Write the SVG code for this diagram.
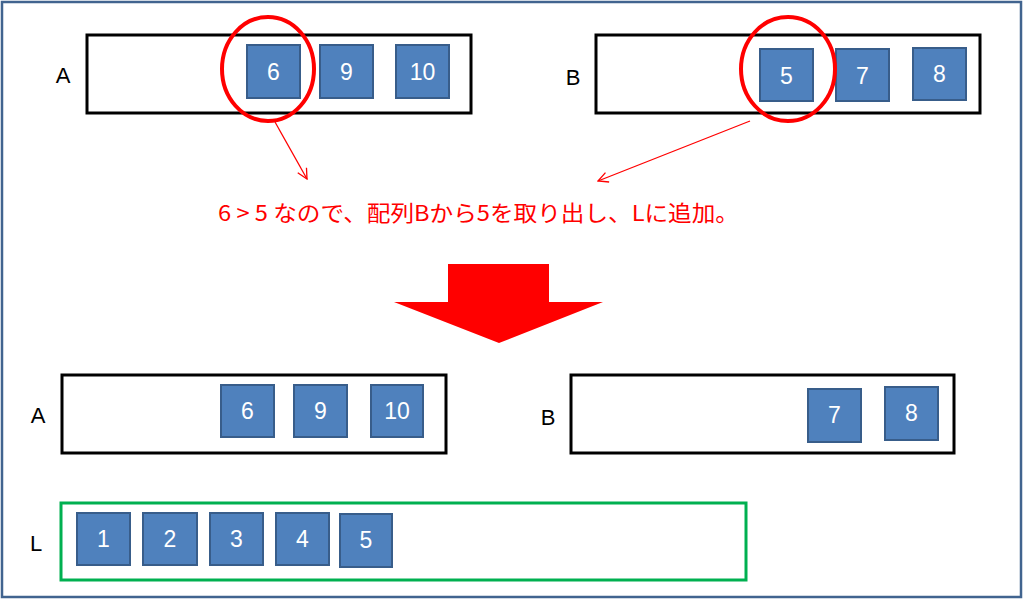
<svg xmlns="http://www.w3.org/2000/svg" width="1024" height="599" viewBox="0 0 1024 599">
<defs>
<style>
.frame{fill:#fff;stroke:#41648f;stroke-width:2.5}
.arr{fill:none;stroke:#000;stroke-width:3}
.lbox{fill:none;stroke:#00b050;stroke-width:3}
.sq{fill:#4f81bd;stroke:#385d8a;stroke-width:2}
.num{font-family:"Liberation Sans",Arial,sans-serif;font-size:23px;fill:#fff;text-anchor:middle;dominant-baseline:central}
.lab{font-family:"Liberation Sans",Arial,sans-serif;font-size:22px;fill:#000;text-anchor:middle;dominant-baseline:central}
.ring{fill:none;stroke:#ff0000;stroke-width:4}
.ptr{fill:none;stroke:#ff0000;stroke-width:1.3}
.msg{font-family:"Noto Sans CJK JP","Noto Sans",sans-serif;font-size:22px;fill:#ff0000}
</style>
<marker id="open" viewBox="0 0 12 12" refX="11" refY="6" markerWidth="12" markerHeight="12" markerUnits="userSpaceOnUse" orient="auto">
<path d="M1,1 L11,6 L1,11" fill="none" stroke="#ff0000" stroke-width="1.3"/>
</marker>
</defs>
<rect class="frame" x="2" y="2" width="1019" height="595"/>

<g id="topA">
<text class="lab" x="63" y="75">A</text>
<rect class="arr" x="87" y="35" width="384" height="78"/>
<rect class="sq" x="247" y="45" width="53" height="53"/><text class="num" x="273.5" y="72">6</text>
<rect class="sq" x="320" y="45" width="53" height="53"/><text class="num" x="346.5" y="72">9</text>
<rect class="sq" x="396" y="45" width="53" height="53"/><text class="num" x="422.5" y="72">10</text>
<ellipse class="ring" cx="268" cy="69" rx="46" ry="52"/>
</g>

<g id="topB">
<text class="lab" x="573" y="77">B</text>
<rect class="arr" x="596" y="35" width="384" height="78"/>
<rect class="sq" x="760" y="49" width="53" height="52"/><text class="num" x="786.5" y="76">5</text>
<rect class="sq" x="836" y="49" width="53" height="52"/><text class="num" x="862.5" y="76">7</text>
<rect class="sq" x="913" y="48" width="53" height="52"/><text class="num" x="939.5" y="74">8</text>
<ellipse class="ring" cx="788" cy="69" rx="47" ry="52"/>
</g>

<g id="connectors">
<line class="ptr" x1="275" y1="122" x2="307" y2="179" marker-end="url(#open)"/>
<line class="ptr" x1="750" y1="121" x2="598" y2="181" marker-end="url(#open)"/>
</g>

<g id="message">
<text class="msg" x="218" y="221" textLength="521" lengthAdjust="spacingAndGlyphs">6 &gt; 5 なので、配列Bから5を取り出し、Lに追加。</text>
</g>

<g id="bigArrow">
<polygon points="448,264 549,264 549,302 603,302 499,343 394,302 448,302" fill="#ff0000"/>
</g>

<g id="bottomA">
<text class="lab" x="38" y="415">A</text>
<rect class="arr" x="62" y="375" width="384" height="78"/>
<rect class="sq" x="221" y="385" width="53" height="52"/><text class="num" x="247.5" y="411">6</text>
<rect class="sq" x="294" y="385" width="53" height="52"/><text class="num" x="320.5" y="411">9</text>
<rect class="sq" x="371" y="385" width="52" height="52"/><text class="num" x="397" y="411">10</text>
</g>

<g id="bottomB">
<text class="lab" x="548" y="417">B</text>
<rect class="arr" x="571" y="375" width="383" height="78"/>
<rect class="sq" x="808" y="389" width="53" height="53"/><text class="num" x="834.5" y="415">7</text>
<rect class="sq" x="885" y="387" width="53" height="53"/><text class="num" x="911.5" y="413">8</text>
</g>

<g id="listL">
<text class="lab" x="36" y="543">L</text>
<rect class="lbox" x="61" y="503" width="685" height="77"/>
<rect class="sq" x="77" y="513" width="53" height="52"/><text class="num" x="103.5" y="539">1</text>
<rect class="sq" x="143" y="513" width="54" height="52"/><text class="num" x="170" y="539">2</text>
<rect class="sq" x="210" y="513" width="53" height="52"/><text class="num" x="236.5" y="539">3</text>
<rect class="sq" x="276" y="513" width="53" height="52"/><text class="num" x="302.5" y="539">4</text>
<rect class="sq" x="340" y="514" width="52" height="53"/><text class="num" x="366" y="540">5</text>
</g>
</svg>
